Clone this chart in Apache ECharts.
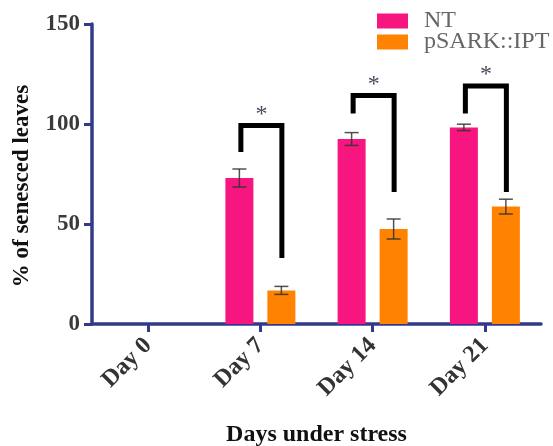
<!DOCTYPE html>
<html>
<head>
<meta charset="utf-8">
<script src="https://cdn.jsdelivr.net/npm/echarts@6/dist/echarts.min.js"></script>
<style>html,body{margin:0;padding:0;background:#fff;}#c{width:553px;height:446px;}</style>
</head>
<body>
<div id="c"></div>
<script>
// ---- data ----
const categories = ['Day 0', 'Day 7', 'Day 14', 'Day 21'];
const seriesNames = ['NT', 'pSARK::IPT'];
const ntMean = [0, 73, 92.5, 98.3];
const ntErr = [0, 4.5, 3.2, 1.6];
const iptMean = [0, 16.8, 47.5, 58.7];
const iptErr = [0, 2.0, 5.0, 3.7];
const yTicks = [0, 50, 100, 150];
// significance brackets: category index, top, left end, right end (in % units)
const bracketCat = [1, 2, 3];
const bracketTop = [99.3, 114.3, 119];
const bracketLeftEnd = [86, 105.3, 105.3];
const bracketRightEnd = [33, 66, 66];
const bracketMark = ['*', '*', '*'];

// ---- styles ----
const AXIS = '#33398a';
const PINK = '#f7157f';
const ORANGE = '#ff8200';
const SERIF = '"Liberation Serif","Times New Roman",serif';
const BAR_W = 28, BAR_GAP = 14;
const OFF = BAR_W / 2 + BAR_GAP / 2;

const errData = [];
categories.forEach((c, i) => {
  if (ntMean[i] > 0) errData.push([i, ntMean[i], ntErr[i], -1]);
  if (iptMean[i] > 0) errData.push([i, iptMean[i], iptErr[i], 1]);
});
const bracketData = bracketCat.map((c, k) => [c, bracketTop[k], bracketLeftEnd[k], bracketRightEnd[k], k]);

const chart = echarts.init(document.getElementById('c'));
chart.setOption({
  animation: false,
  backgroundColor: '#fff',
  grid: { left: 92, right: 12, top: 24, bottom: 122, containLabel: false, outerBoundsMode: 'none' },
  legend: {
    orient: 'vertical', left: 372, top: 4,
    itemWidth: 31, itemHeight: 15, itemGap: -3,
    icon: 'rect',
    textStyle: { fontFamily: SERIF, fontSize: 24, color: '#666', lineHeight: 20, padding: [0, 0, 0, 11] },
    data: seriesNames
  },
  xAxis: {
    type: 'category', data: categories,
    axisLine: { lineStyle: { color: AXIS, width: 3.5 } },
    axisTick: { show: true, length: 8, alignWithLabel: true, lineStyle: { color: AXIS, width: 3 } },
    axisLabel: { rotate: 45, margin: 18, fontFamily: SERIF, fontWeight: 'bold', fontSize: 24, color: '#333' },
    name: 'Days under stress', nameLocation: 'middle', nameGap: 99,
    nameTextStyle: { fontFamily: SERIF, fontWeight: 'bold', fontSize: 24, color: '#111' }
  },
  yAxis: {
    type: 'value', min: yTicks[0], max: yTicks[yTicks.length - 1], interval: yTicks[1] - yTicks[0],
    splitLine: { show: false },
    axisLine: { show: true, lineStyle: { color: AXIS, width: 3.5 } },
    axisTick: { show: true, length: 8, lineStyle: { color: AXIS, width: 3 } },
    axisLabel: { margin: 12, fontFamily: SERIF, fontWeight: 'bold', fontSize: 23, color: '#3a3a3a' },
    name: '% of senesced leaves', nameLocation: 'middle', nameGap: 58,
    nameTextStyle: { fontFamily: SERIF, fontWeight: 'bold', fontSize: 23, color: '#111', padding: [0, 24, 0, 0] }
  },
  series: [
    { name: seriesNames[0], type: 'bar', data: ntMean, barWidth: BAR_W, barGap: (BAR_GAP / BAR_W * 100) + '%',
      itemStyle: { color: PINK } },
    { name: seriesNames[1], type: 'bar', data: iptMean, barWidth: BAR_W,
      itemStyle: { color: ORANGE } },
    { type: 'custom', data: errData, z: 5, silent: true,
      renderItem: function (params, api) {
        const c = api.value(0), m = api.value(1), e = api.value(2), side = api.value(3);
        const hi = api.coord([c, m + e]); const lo = api.coord([c, m - e]);
        const x = hi[0] + side * OFF; const cw = 7;
        const st = { stroke: '#333', lineWidth: 1.5, opacity: 0.85 };
        return { type: 'group', children: [
          { type: 'line', shape: { x1: x, y1: hi[1], x2: x, y2: lo[1] }, style: st },
          { type: 'line', shape: { x1: x - cw, y1: hi[1], x2: x + cw, y2: hi[1] }, style: st },
          { type: 'line', shape: { x1: x - cw, y1: lo[1], x2: x + cw, y2: lo[1] }, style: st }
        ]};
      } },
    { type: 'custom', data: bracketData, z: 6, silent: true,
      renderItem: function (params, api) {
        const c = api.value(0);
        const top = api.coord([c, api.value(1)]);
        const le = api.coord([c, api.value(2)]);
        const re = api.coord([c, api.value(3)]);
        const xl = top[0] - OFF + 1.5, xr = top[0] + OFF + 0.5;
        return { type: 'group', children: [
          { type: 'polyline', shape: { points: [[xl, le[1]], [xl, top[1]], [xr, top[1]], [xr, re[1]]] },
            style: { stroke: '#000', lineWidth: 5, fill: null, lineJoin: 'miter', lineCap: 'butt' } },
          { type: 'text', x: (xl + xr) / 2, y: top[1] - 11,
            style: { text: bracketMark[api.value(4)], fontFamily: SERIF, fontSize: 24, fill: '#4a4a5e', align: 'center', verticalAlign: 'middle' } }
        ]};
      } }
  ]
});
</script>
</body>
</html>
